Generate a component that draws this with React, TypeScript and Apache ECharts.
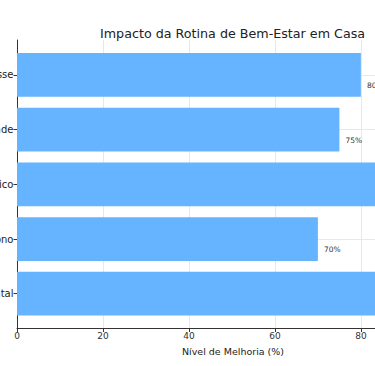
import React, { useEffect, useRef } from "react";
import * as echarts from "echarts";

const categories = [
  "Saúde Mental",
  "Qualidade do Sono",
  "Bem-Estar Físico",
  "Produtividade",
  "Redução do Estresse",
];
const values = [95, 70, 85, 75, 80];
const xMin = 0;
const xMax = 100.5;
const xInterval = 20;

const FONT = "DejaVu Sans";
const OFFSET = 150;

export default function App() {
  const ref = useRef<HTMLDivElement>(null);
  useEffect(() => {
    if (!ref.current) return;
    const chart = echarts.init(ref.current, undefined, { renderer: "svg" });
    chart.setOption({
      animation: false,
      title: {
        text: "Impacto da Rotina de Bem-Estar em Casa",
        left: 95 + OFFSET,
        top: 22,
        textStyle: { fontFamily: FONT, fontSize: 12.7, fontWeight: "normal", color: "#222" },
      },
      grid: [
        { left: 17 + OFFSET, top: 47.65, width: 432, height: 273.4 },
        { left: 17 + OFFSET, top: 40, width: 432, height: 288.5 },
      ],
      xAxis: [
        { gridIndex: 0, type: "value", min: xMin, max: xMax, show: false },
        {
          gridIndex: 1,
          type: "value",
          min: xMin,
          max: xMax,
          interval: xInterval,
          axisLine: { show: true, lineStyle: { color: "#333", width: 1 } },
          axisTick: { show: true, length: 3.5, lineStyle: { color: "#333" } },
          axisLabel: { fontFamily: FONT, fontSize: 9, color: "#333", margin: 3, showMaxLabel: false },
          splitLine: { show: true, lineStyle: { color: "#e8e8e8", width: 1 } },
          name: "Nível de Melhoria (%)",
          nameLocation: "middle",
          nameGap: 18,
          nameTextStyle: { fontFamily: FONT, fontSize: 9.5, color: "#222" },
        },
      ],
      yAxis: [
        {
          gridIndex: 0,
          type: "category",
          data: categories,
          axisLine: { show: false },
          axisTick: { show: true, alignWithLabel: true, length: 3.5, lineStyle: { color: "#333" } },
          axisLabel: { fontFamily: FONT, fontSize: 10, color: "#222", margin: 3.5 },
          splitLine: { show: false },
        },
        {
          gridIndex: 1,
          type: "value",
          min: 0,
          max: 1,
          axisLine: { show: true, lineStyle: { color: "#333", width: 1 } },
          axisTick: { show: false },
          axisLabel: { show: false },
          splitLine: { show: false },
        },
      ],
      series: [
        {
          type: "line",
          xAxisIndex: 0,
          yAxisIndex: 0,
          data: [],
          z: 0,
          silent: true,
          markLine: {
            z: 0,
            silent: true,
            symbol: "none",
            label: { show: false },
            lineStyle: { color: "#e8e8e8", type: "solid", width: 1 },
            data: categories.map((c) => ({ yAxis: c })),
          },
        },
        {
          type: "bar",
          xAxisIndex: 0,
          yAxisIndex: 0,
          data: values,
          barWidth: "80%",
          z: 3,
          itemStyle: { color: "#66b3ff" },
          label: {
            show: true,
            position: "right",
            distance: 6,
            offset: [0, 10.5],
            formatter: "{c}%",
            fontFamily: FONT,
            fontSize: 7.5,
            color: "#333",
          },
        },
      ],
    });
    return () => chart.dispose();
  }, []);
  return (
    <div
      style={{
        position: "fixed",
        left: 0,
        top: 0,
        width: 375,
        height: 366,
        overflow: "hidden",
        background: "#fff",
      }}
    >
      <div
        ref={ref}
        style={{ position: "absolute", left: -OFFSET, top: 0, width: 650, height: 366 }}
      />
    </div>
  );
}
